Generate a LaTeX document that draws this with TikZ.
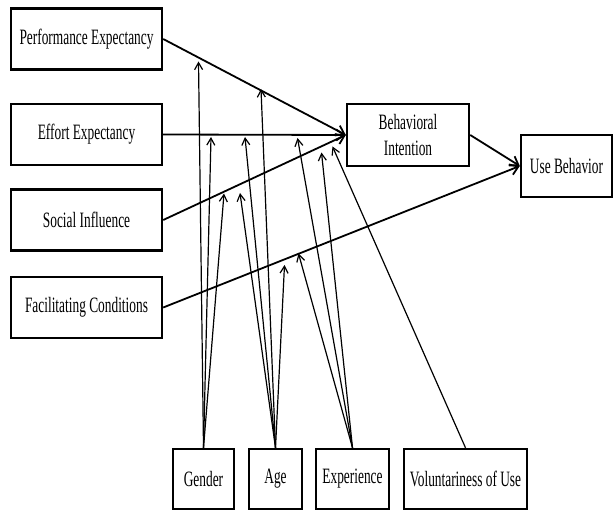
\documentclass[tikz,border=0pt]{standalone}
\usepackage{fontspec}
\setmainfont[FakeStretch=0.61]{Liberation Serif}
\usetikzlibrary{arrows.meta}
\begin{document}
\begin{tikzpicture}[x=1bp,y=-1bp,
  box/.style={draw, line width=2.4bp, inner sep=0pt, align=center, text=black,
    font=\fontsize{22}{26.5}\selectfont},
  leftbox/.style={box, minimum width=151bp, minimum height=61bp},
  mainarrow/.style={line width=1.8bp, -{Straight Barb[length=8bp,width=11bp,line width=1.8bp]}},
  modarrow/.style={line width=1.2bp, -{Straight Barb[length=7bp,width=8bp,line width=1.2bp]}}]
\useasboundingbox (0,0) rectangle (615,511);
% left boxes
\node[leftbox] (pe) at (86.5,39) {Performance Expectancy};
\node[leftbox] (ee) at (86.5,134.5) {Effort Expectancy};
\node[leftbox] (si) at (86.5,220) {Social Influence};
\node[leftbox] (fc) at (86.5,307.5) {Facilitating Conditions};
% outcome boxes
\node[box, minimum width=122bp, minimum height=62bp] (bi) at (408,135) {Behavioral\\Intention};
\node[box, minimum width=91bp, minimum height=62bp] (ub) at (566.5,166) {Use Behavior};
% moderator boxes
\node[box, minimum width=61bp, minimum height=60bp] (gen) at (203.5,479) {Gender};
\node[box, minimum width=53bp, minimum height=60bp] (age) at (275.5,479) {Age};
\node[box, minimum width=73bp, minimum height=60bp] (exp) at (352.5,479) {Experience};
\node[box, minimum width=123bp, minimum height=60bp] (vol) at (465.5,479) {Voluntariness of Use};
% main paths
\draw[mainarrow] (pe.east) -- (bi.west);
\draw[mainarrow] (ee.east) -- (bi.west);
\draw[mainarrow] (si.east) -- (bi.west);
\draw[mainarrow] (bi.east) -- (ub.west);
\draw[mainarrow] (fc.east) -- (ub.west);
% moderator targets
\coordinate (g1) at (198.5,61.5);
\coordinate (g2) at (211,137);
\coordinate (g3) at (224,193.5);
\coordinate (a1) at (261,89);
\coordinate (a2) at (245,137);
\coordinate (a3) at (240,193);
\coordinate (a4) at (284.5,265);
\coordinate (e1) at (297.5,138);
\coordinate (e2) at (321.5,152.5);
\coordinate (e3) at (298.5,253.5);
\coordinate (v1) at (332.5,146.5);
% moderator arrows
\foreach \t in {g1,g2,g3} \draw[modarrow] (gen.north) -- (\t);
\foreach \t in {a1,a2,a3,a4} \draw[modarrow] (age.north) -- (\t);
\foreach \t in {e1,e2,e3} \draw[modarrow] (exp.north) -- (\t);
\draw[modarrow] (vol.north) -- (v1);
\end{tikzpicture}
\end{document}
